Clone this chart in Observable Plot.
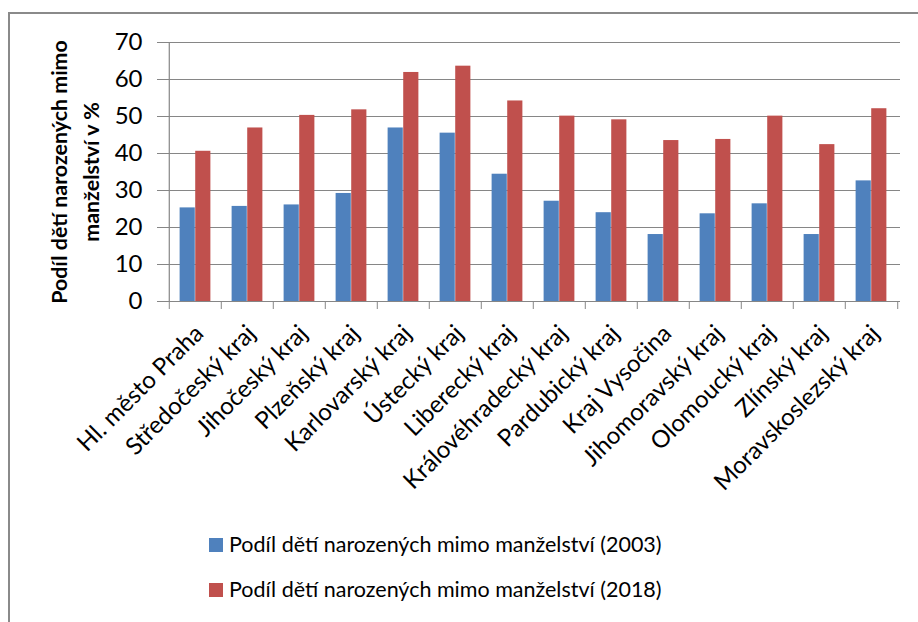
<!DOCTYPE html>
<html>
<head>
<meta charset="utf-8">
<script src="https://cdn.jsdelivr.net/npm/d3@7"></script>
<script src="https://cdn.jsdelivr.net/npm/@observablehq/plot@0.6"></script>
<style>
  html, body { margin: 0; padding: 0; background: #fff; }
  body { width: 918px; height: 622px; overflow: hidden; position: relative; font-family: Lato, "Open Sans", sans-serif; }
  #frame { position: absolute; left: 8px; top: 12px; width: 1200px; height: 1200px;
           border-left: 2px solid #8a8a8a; border-top: 2px solid #8a8a8a; pointer-events: none; }
  #chart svg { display: block; }
  #legend { position: relative; height: 102px; }
  .item { position: absolute; left: 209px; display: flex; align-items: center; font-size: 21.5px; color: #000; line-height: 1; }
  .sw { width: 14px; height: 14px; margin-right: 6px; }
</style>
</head>
<body>
<div id="frame"></div>
<div id="chart"></div>
<div id="legend"></div>
<script>
const categories = ["Hl. město Praha", "Středočeský kraj", "Jihočeský kraj", "Plzeňský kraj",
  "Karlovarský kraj", "Ústecký kraj", "Liberecký kraj", "Královéhradecký kraj", "Pardubický kraj",
  "Kraj Vysočina", "Jihomoravský kraj", "Olomoucký kraj", "Zlínský kraj", "Moravskoslezský kraj"];
const values2003 = [25.3, 25.7, 26.1, 29.2, 46.9, 45.5, 34.4, 27.1, 24.0, 18.1, 23.7, 26.4, 18.1, 32.6];
const values2018 = [40.6, 46.9, 50.3, 51.8, 61.9, 63.6, 54.2, 50.1, 49.1, 43.5, 43.8, 50.1, 42.4, 52.1];
const seriesNames = ["Podíl dětí narozených mimo manželství (2003)", "Podíl dětí narozených mimo manželství (2018)"];
const seriesColors = ["#4F81BD", "#C0504D"];
const yTicks = [0, 10, 20, 30, 40, 50, 60, 70];
const yTitle = "Podíl dětí narozených mimo\nmanželství v %";

const rows2003 = categories.map((c, i) => ({region: c, value: values2003[i], series: seriesNames[0]}));
const rows2018 = categories.map((c, i) => ({region: c, value: values2018[i], series: seriesNames[1]}));

const W = 918, H = 520;
const mL = 166, mR = 18, mT = 42, mB = 219;
const step = (W - mL - mR) / categories.length;
const half = step / 2;
const barW = 15.6;
const grid = "#868686";

const chart = Plot.plot({
  width: W, height: H,
  marginLeft: mL, marginRight: mR, marginTop: mT, marginBottom: mB,
  style: {fontFamily: "Lato, sans-serif", color: "#000", background: "transparent"},
  x: {domain: categories, padding: 0, axis: null},
  y: {domain: [0, 70], axis: null},
  color: {domain: seriesNames, range: seriesColors},
  marks: [
    Plot.gridY(yTicks.filter(d => d > 0), {stroke: grid, strokeOpacity: 1, strokeWidth: 1.2}),
    Plot.barY(rows2003, {x: "region", y: "value", fill: "series", insetLeft: half - barW, insetRight: half}),
    Plot.barY(rows2018, {x: "region", y: "value", fill: "series", insetLeft: half, insetRight: half - barW}),
    Plot.ruleY([0], {stroke: grid, strokeWidth: 1.2}),
    Plot.ruleX([categories[0]], {x: d => d, dx: -half, y1: 0, y2: 70, stroke: grid, strokeWidth: 1.2}),
    Plot.axisY({ticks: yTicks, tickSize: 9, tickPadding: 15, fontSize: 24, stroke: grid, fill: "#000", label: null}),
    Plot.axisX({tickSize: 8, dx: -half, tickFormat: () => "", stroke: grid, label: null}),
    Plot.axisX({ticks: [categories[categories.length - 1]], tickSize: 8, dx: half, tickFormat: () => "", stroke: grid, label: null}),
    Plot.axisX({tickSize: 0, tickRotate: -45, tickPadding: 28, dx: 4, fontSize: 24, fill: "#000", label: null}),
    Plot.text([yTitle], {frameAnchor: "left", textAnchor: "middle", dx: -94, rotate: -90, text: d => d, fontSize: 21.4, fontWeight: "bold", lineHeight: 1.5, fill: "#000"})
  ]
});
document.getElementById("chart").appendChild(chart);

const legend = document.getElementById("legend");
seriesNames.forEach((name, i) => {
  const item = document.createElement("div");
  item.className = "item";
  item.style.top = (14 + i * 45) + "px";
  const sw = document.createElement("span");
  sw.className = "sw";
  sw.style.background = seriesColors[i];
  const t = document.createElement("span");
  t.textContent = name;
  item.appendChild(sw);
  item.appendChild(t);
  legend.appendChild(item);
});
</script>
</body>
</html>
